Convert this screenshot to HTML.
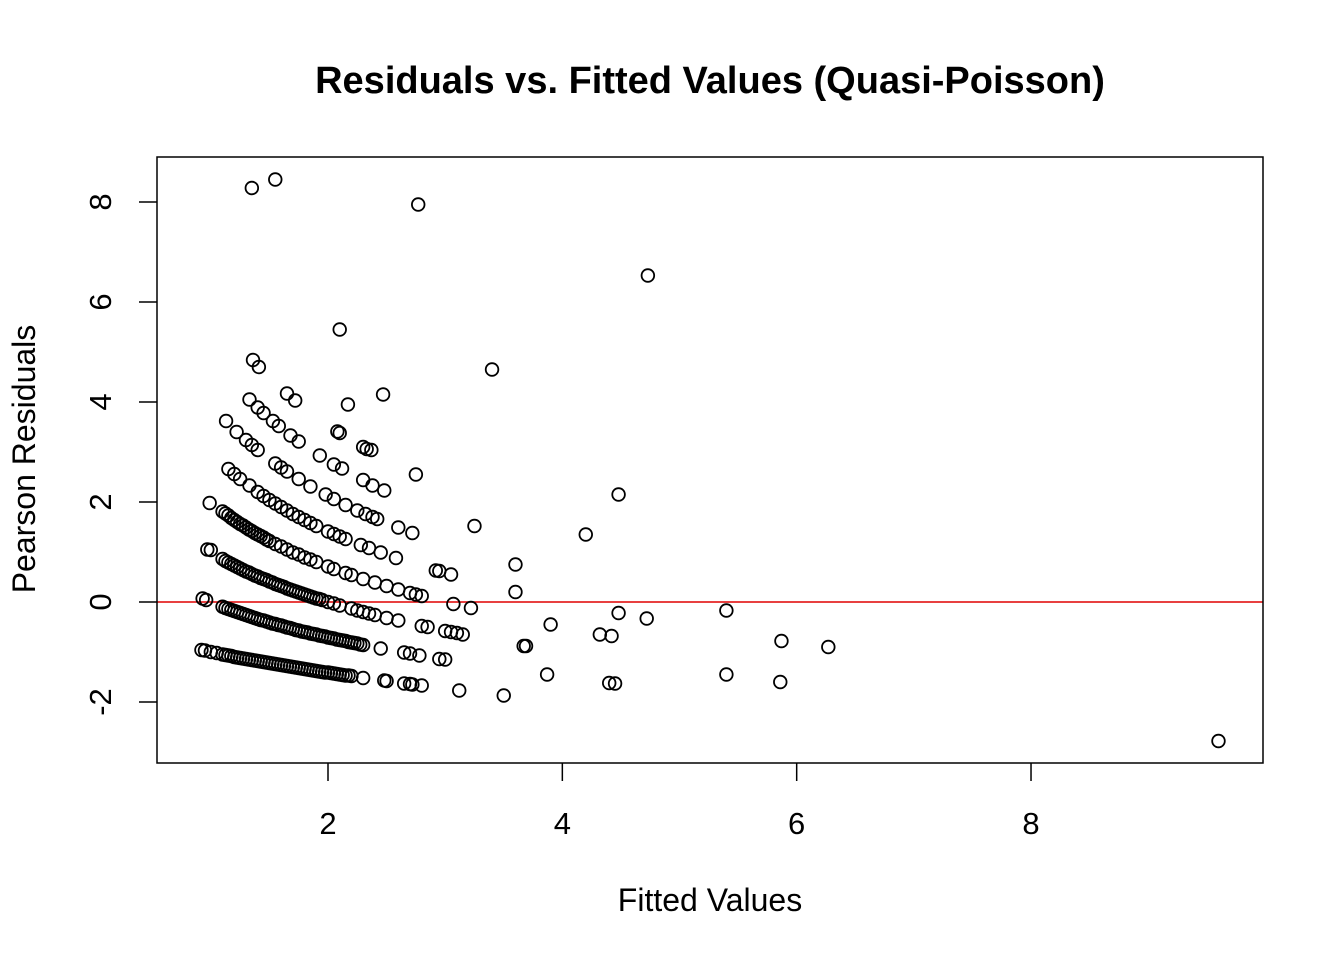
<!DOCTYPE html>
<html><head><meta charset="utf-8"><style>
html,body{margin:0;padding:0;background:#fff;}
svg text{font-family:"Liberation Sans",Arial,sans-serif;fill:#000;}
</style></head><body>
<svg id="chart" width="1344" height="960" xmlns="http://www.w3.org/2000/svg">
<rect width="1344" height="960" fill="#fff"/>
<text x="710" y="93" text-anchor="middle" font-size="38" font-weight="bold">Residuals vs. Fitted Values (Quasi-Poisson)</text>
<text x="710" y="911" text-anchor="middle" font-size="32">Fitted Values</text>
<text transform="translate(35,459) rotate(-90)" text-anchor="middle" font-size="32">Pearson Residuals</text>
<g id="axes"></g>
<g id="points"></g>
<rect x="157" y="157" width="1106" height="606" fill="none" stroke="#000" stroke-width="1.5"/>
</svg>
<script>
const xTicks = [2, 4, 6, 8];
const yTicks = [-2, 0, 2, 4, 6, 8];
const refLine = 0;
// [fitted, residual]
const obs = [
[0.92,-0.96],[0.95,-0.97],[1.0,-1.0],[1.05,-1.02],[1.1,-1.05],[1.15,-1.07],[1.2,-1.1],[1.25,-1.12],[1.3,-1.14],[1.35,-1.16],[1.4,-1.18],[1.45,-1.2],[1.5,-1.22],[1.55,-1.24],[1.6,-1.26],[1.65,-1.28],[1.7,-1.3],[1.75,-1.32],[1.8,-1.34],[1.85,-1.36],[1.9,-1.38],[1.95,-1.4],[2.0,-1.41],[2.05,-1.43],[2.1,-1.45],[2.15,-1.47],[2.2,-1.48],[2.3,-1.52],[2.48,-1.57],[2.5,-1.58],[2.65,-1.63],[2.7,-1.64],[2.72,-1.65],[2.8,-1.67],[3.12,-1.77],[3.5,-1.87],
[1.125,-1.06],[1.175,-1.08],[1.225,-1.11],[1.275,-1.13],[1.325,-1.15],[1.375,-1.17],[1.425,-1.19],[1.475,-1.21],[1.525,-1.23],[1.575,-1.25],[1.625,-1.27],[1.675,-1.29],[1.725,-1.31],[1.775,-1.33],[1.825,-1.35],[1.875,-1.37],[1.925,-1.39],[1.975,-1.41],[2.025,-1.42],[2.075,-1.44],[2.125,-1.46],[2.175,-1.47],
[0.93,0.07],[0.96,0.04],[1.1,-0.095],[1.15,-0.14],[1.2,-0.18],[1.25,-0.22],[1.3,-0.26],[1.35,-0.3],[1.4,-0.34],[1.45,-0.37],[1.5,-0.41],[1.55,-0.44],[1.6,-0.47],[1.65,-0.51],[1.7,-0.54],[1.75,-0.57],[1.8,-0.6],[1.85,-0.63],[1.9,-0.65],[1.95,-0.68],[2.0,-0.71],[2.05,-0.73],[2.1,-0.76],[2.15,-0.78],[2.2,-0.81],[2.25,-0.83],[2.3,-0.86],[2.45,-0.93],[2.65,-1.01],[2.7,-1.03],[2.78,-1.07],[2.95,-1.14],[3.0,-1.15],[3.67,-0.88],[3.69,-0.88],
[1.125,-0.12],[1.175,-0.16],[1.225,-0.2],[1.275,-0.24],[1.325,-0.28],[1.375,-0.32],[1.425,-0.36],[1.475,-0.39],[1.525,-0.43],[1.575,-0.46],[1.625,-0.49],[1.675,-0.52],[1.725,-0.56],[1.775,-0.59],[1.825,-0.61],[1.875,-0.64],[1.925,-0.67],[1.975,-0.69],[2.025,-0.72],[2.075,-0.75],[2.125,-0.77],[2.175,-0.8],[2.225,-0.82],[2.275,-0.85],
[0.97,1.05],[1.0,1.04],[1.1,0.86],[1.15,0.79],[1.2,0.73],[1.25,0.67],[1.3,0.61],[1.35,0.56],[1.4,0.51],[1.45,0.46],[1.5,0.41],[1.55,0.36],[1.6,0.32],[1.65,0.27],[1.7,0.23],[1.75,0.19],[1.8,0.15],[1.85,0.11],[1.9,0.07],[1.95,0.04],[2.0,0.0],[2.05,-0.03],[2.1,-0.07],[2.2,-0.13],[2.25,-0.17],[2.3,-0.2],[2.35,-0.23],[2.4,-0.26],[2.5,-0.32],[2.6,-0.37],[2.8,-0.48],[2.85,-0.5],[3.0,-0.58],[3.05,-0.6],[3.1,-0.62],[3.15,-0.65],[3.07,-0.04],[3.22,-0.12],
[1.125,0.82],[1.175,0.76],[1.225,0.7],[1.275,0.64],[1.325,0.59],[1.375,0.53],[1.425,0.48],[1.475,0.44],[1.525,0.39],[1.575,0.34],[1.625,0.3],[1.675,0.25],[1.725,0.21],[1.775,0.17],[1.825,0.13],[1.875,0.09],[1.925,0.06],
[0.99,1.98],[1.1,1.81],[1.15,1.73],[1.2,1.64],[1.25,1.56],[1.3,1.49],[1.35,1.42],[1.4,1.35],[1.45,1.29],[1.5,1.22],[1.55,1.16],[1.6,1.11],[1.65,1.05],[1.7,0.99],[1.75,0.95],[1.8,0.89],[1.85,0.85],[1.9,0.8],[2.0,0.71],[2.05,0.66],[2.15,0.58],[2.2,0.54],[2.3,0.46],[2.4,0.39],[2.5,0.32],[2.6,0.25],[2.7,0.18],[2.75,0.15],[2.8,0.12],[2.92,0.63],[3.05,0.55],
[1.125,1.77],[1.175,1.68],[1.225,1.6],[1.275,1.53],[1.325,1.45],[1.375,1.38],[1.425,1.32],[1.475,1.25],
[1.15,2.66],[1.2,2.56],[1.25,2.46],[1.33,2.33],[1.4,2.2],[1.45,2.12],[1.5,2.04],[1.55,1.97],[1.6,1.9],[1.65,1.83],[1.7,1.76],[1.75,1.7],[1.8,1.64],[1.85,1.58],[1.9,1.52],[2.0,1.41],[2.05,1.36],[2.1,1.31],[2.15,1.26],[2.28,1.14],[2.35,1.08],[2.45,0.99],[2.58,0.88],[2.95,0.62],
[1.13,3.62],[1.22,3.4],[1.3,3.24],[1.35,3.14],[1.4,3.04],[1.55,2.77],[1.6,2.69],[1.65,2.61],[1.75,2.46],[1.85,2.31],[1.98,2.15],[2.05,2.06],[2.15,1.94],[2.25,1.83],[2.32,1.76],[2.38,1.7],[2.42,1.66],[2.6,1.49],[2.72,1.38],[3.25,1.52],
[1.33,4.05],[1.4,3.89],[1.45,3.78],[1.53,3.62],[1.58,3.52],[1.68,3.33],[1.75,3.21],[1.93,2.93],[2.05,2.75],[2.12,2.67],[2.3,2.44],[2.38,2.33],[2.48,2.23],[2.75,2.55],
[1.36,4.84],[1.41,4.7],[1.65,4.17],[1.72,4.03],[2.08,3.41],[2.1,3.38],[2.3,3.1],[2.33,3.06],[2.37,3.04],[2.17,3.95],[2.47,4.15],[2.1,5.45],[1.35,8.28],[1.55,8.45],[2.77,7.95],
[4.73,6.53],[3.4,4.65],[4.48,2.15],[4.2,1.35],[3.6,0.75],[3.6,0.2],[3.9,-0.45],[4.32,-0.65],[4.42,-0.68],[4.48,-0.22],[4.72,-0.33],[5.4,-0.17],[5.87,-0.78],[6.27,-0.9],[3.87,-1.45],[4.4,-1.62],[4.45,-1.63],[5.4,-1.45],[5.86,-1.6],[9.6,-2.78]
];
const NS = 'http://www.w3.org/2000/svg';
const xs = v => 328 + (v - 2) * 117.17;
const ys = v => 602 - v * 50;
const axes = document.getElementById('axes');
const pts = document.getElementById('points');
function mk(tag, attrs, parent) {
  const e = document.createElementNS(NS, tag);
  for (const k in attrs) e.setAttribute(k, attrs[k]);
  parent.appendChild(e);
  return e;
}
xTicks.forEach(t => {
  const l = mk('line', {x1: xs(t), x2: xs(t), y1: 763, y2: 781, stroke: '#000', 'stroke-width': 1.5}, axes);
  
  
  const tx = mk('text', {x: xs(t), y: 834, 'text-anchor': 'middle', 'font-size': 31}, axes);
  tx.textContent = t;
  
  
});
yTicks.forEach(t => {
  const l = mk('line', {x1: 139, x2: 157, y1: ys(t), y2: ys(t), stroke: '#000', 'stroke-width': 1.5}, axes);
  
  
  const tx = mk('text', {transform: `translate(111,${ys(t)}) rotate(-90)`, 'text-anchor': 'middle', 'font-size': 31}, axes);
  tx.textContent = t;
  
  
});
const rl = mk('line', {x1: 157, x2: 1263, y1: ys(refLine), y2: ys(refLine), stroke: '#e00000', 'stroke-width': 1.5}, axes);


obs.forEach(p => {
  const c = mk('circle', {cx: xs(p[0]), cy: ys(p[1]), r: 6.3, fill: 'none', stroke: '#000', 'stroke-width': 1.8}, pts);
  
  
});
</script>
</body></html>
